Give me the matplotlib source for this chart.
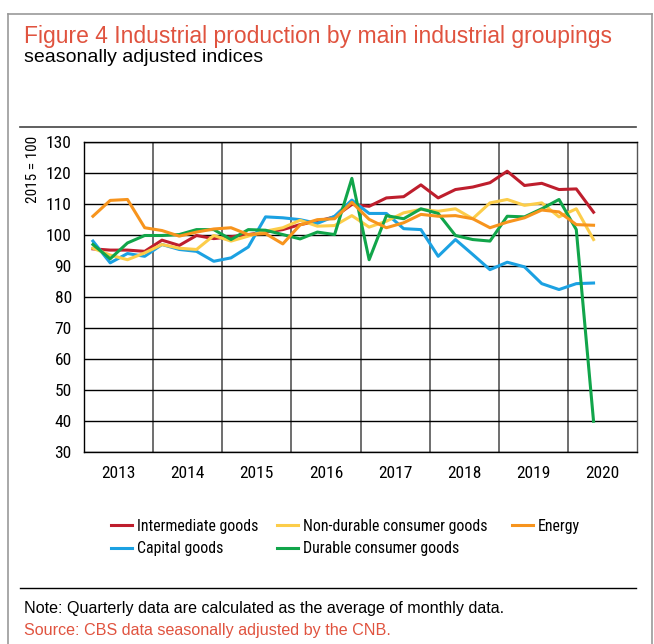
import numpy as np
import matplotlib.pyplot as plt
from matplotlib.lines import Line2D

narrow = ['Roboto Condensed', 'Liberation Sans', 'DejaVu Sans']
wide = ['Liberation Sans', 'DejaVu Sans']
plt.rcParams['font.family'] = narrow

# Quarterly data, 2013 Q1 - 2020 Q2 (2015 = 100)
years = ['2013', '2014', '2015', '2016', '2017', '2018', '2019', '2020']
intermediate = [95.5, 95.1, 95.1, 94.7, 98.3, 96.6, 99.8, 98.8, 99.4, 100.1, 100.9, 101.7,
                103.3, 104.4, 105.8, 109.8, 109.2, 111.9, 112.3, 116.1, 111.9, 114.6, 115.4, 116.8,
                120.5, 115.9, 116.6, 114.6, 114.8, 107.3]
capital = [98.0, 91.0, 94.0, 93.1, 96.9, 95.3, 94.7, 91.5, 92.6, 96.1, 105.8, 105.5,
           104.9, 103.7, 106.0, 111.2, 106.9, 106.9, 102.0, 101.7, 93.1, 98.5, 93.7, 88.8,
           91.2, 89.7, 84.3, 82.4, 84.3, 84.5]
nondurable = [95.7, 93.5, 92.0, 94.2, 96.9, 95.7, 95.3, 99.8, 98.0, 99.6, 101.2, 102.3,
              104.7, 102.8, 103.0, 106.2, 102.5, 104.4, 107.1, 108.2, 107.6, 108.4, 105.2, 110.3,
              111.4, 109.5, 110.3, 105.8, 108.4, 98.5]
durable = [96.9, 92.3, 97.4, 99.8, 99.8, 100.1, 101.7, 101.7, 98.5, 101.7, 101.5, 100.1,
           98.7, 100.9, 100.1, 118.2, 92.0, 106.2, 105.2, 108.4, 106.9, 99.8, 98.5, 98.0,
           106.0, 105.8, 108.4, 111.4, 101.7, 40.0]
energy = [106.0, 111.1, 111.4, 102.3, 101.4, 99.6, 100.9, 101.9, 102.3, 100.1, 100.4, 97.1,
          103.2, 104.9, 105.2, 110.5, 105.0, 102.3, 103.9, 106.6, 106.0, 106.2, 105.2, 102.3,
          104.1, 105.5, 108.0, 107.4, 103.3, 103.1]

red = '#BE1E2D'
blue = '#1BA1E2'
yellow = '#FCCD4A'
green = '#11A54A'
orange = '#F7941D'
title_red = '#E0533F'

W, H = 654, 644
fig = plt.figure(figsize=(W / 100, H / 100), dpi=100)

def fx(px):
    return px / W

def fy(py):
    return 1 - py / H

# outer frame
fig.add_artist(Line2D([fx(8), fx(8)], [fy(14), 0], color='#999999', lw=1.2))
fig.add_artist(Line2D([fx(8), fx(652)], [fy(14), fy(14)], color='#999999', lw=1.2))
fig.add_artist(Line2D([fx(652), fx(652)], [fy(14), 0], color='#999999', lw=1.2))

fig.text(fx(24), fy(36), 'Figure 4 Industrial production by main industrial groupings',
         color=title_red, fontsize=16.5, va='center', ha='left', family=wide)
fig.text(fx(24), fy(58), 'seasonally adjusted indices', color='black', fontsize=14,
         va='center', ha='left', family=wide)

fig.add_artist(Line2D([fx(20), fx(636)], [fy(126.5), fy(126.5)], color='#444444', lw=1.2))
fig.add_artist(Line2D([fx(20), fx(636)], [fy(588), fy(588)], color='black', lw=1.0))

fig.text(fx(24), fy(608), 'Note: Quarterly data are calculated as the average of monthly data.',
         color='black', fontsize=11.6, va='center', ha='left', family=wide)
fig.text(fx(24), fy(630), 'Source: CBS data seasonally adjusted by the CNB.',
         color=title_red, fontsize=11.6, va='center', ha='left', family=wide)

ax = fig.add_axes([fx(84.3), fy(452.3), fx(636.7 - 84.3), (452.3 - 141.7) / H])

x = np.arange(len(intermediate)) + 0.5
l1, = ax.plot(x, intermediate, color=red, lw=2.2, label='Intermediate goods')
l2, = ax.plot(x, capital, color=blue, lw=2.2, label='Capital goods')
l3, = ax.plot(x, nondurable, color=yellow, lw=2.2, label='Non-durable consumer goods')
l4, = ax.plot(x, durable, color=green, lw=2.2, label='Durable consumer goods')
l5, = ax.plot(x, energy, color=orange, lw=2.2, label='Energy')

ax.set_xlim(0, 32)
ax.set_ylim(30, 130)
ax.set_yticks(np.arange(30, 131, 10))
ax.set_xticks(np.arange(2, 32, 4))
ax.set_xticklabels(years)
ax.set_xticks(np.arange(4, 32, 4), minor=True)
ax.tick_params(axis='both', which='both', length=0, labelsize=12.5)
ax.tick_params(axis='x', pad=10)
ax.tick_params(axis='y', pad=9)
ax.grid(axis='y', which='major', color='black', lw=1.0)
ax.grid(axis='x', which='minor', color='#555555', lw=1.2)
ax.set_axisbelow(True)
for s in ax.spines.values():
    s.set_color('black')
    s.set_linewidth(1.0)
ax.spines['right'].set_color('#555555')

fig.text(fx(33), fy(169), '2015 = 100', rotation=90, fontsize=11, va='center', ha='center')

# legend: one column per legend so the handles sit where they do in the reference
cols = [([l1, l2], 110.7), ([l3, l4], 277.3), ([l5], 511.7)]
for handles, left in cols:
    fig.legend(handles=handles, loc='upper left', bbox_to_anchor=(fx(left), fy(518.5)),
               frameon=False, fontsize=11.4, handlelength=1.32, handletextpad=0.32,
               labelspacing=0.5, borderaxespad=0, borderpad=0)

fig.savefig('out.png', dpi=100)
